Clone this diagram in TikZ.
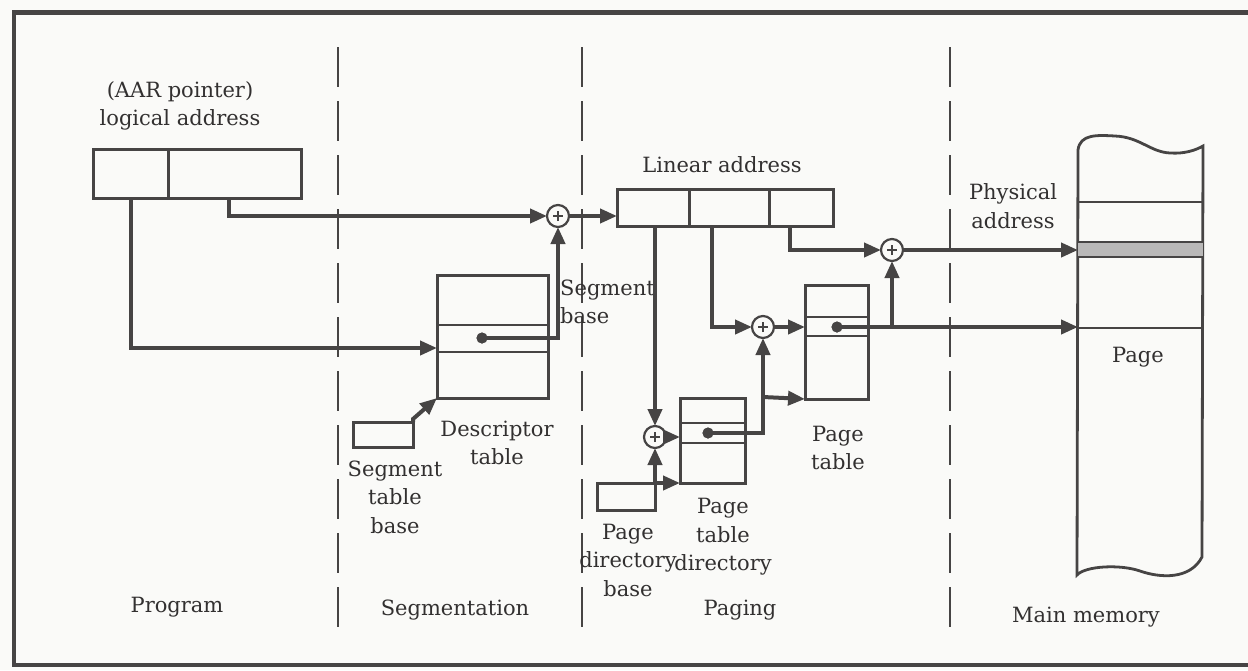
\documentclass[tikz,border=0pt]{standalone}
\usepackage{fontspec}
\setmainfont{DejaVu Serif}
\usetikzlibrary{arrows.meta}
\definecolor{ink}{RGB}{70,68,68}
\definecolor{textink}{RGB}{50,48,48}
\definecolor{paper}{RGB}{250,250,248}
\begin{document}
\begin{tikzpicture}[x=1pt,y=-1pt,
  box/.style={draw=ink,line width=3pt,inner sep=0pt,outer sep=0pt},
  conn/.style={draw=ink,line width=4pt,-{Triangle[length=17pt,width=14pt]}},
  wire/.style={draw=ink,line width=4pt},
  adder/.style={circle,draw=ink,line width=2.2pt,minimum size=22pt,inner sep=0pt,outer sep=0pt,fill=paper,
    path picture={\draw[ink,line width=1.9pt]
      ([xshift=-5pt]path picture bounding box.center) -- ([xshift=5pt]path picture bounding box.center)
      ([yshift=-5pt]path picture bounding box.center) -- ([yshift=5pt]path picture bounding box.center);}},
  lbl/.style={text=textink,font=\fontsize{21}{28.5}\selectfont,align=center,inner sep=0pt},
  sep/.style={draw=ink,line width=2.2pt,dash pattern=on 40pt off 14pt},
  dotn/.style={circle,fill=ink,inner sep=0pt,minimum size=11pt},
  thin/.style={draw=ink,line width=2pt}
]
\useasboundingbox (0,0) rectangle (1248,670);
\fill[paper] (0,0) rectangle (1248,670);
% frame
\draw[ink,line width=4.5pt] (1262,12.5) -- (14,12.5) -- (14,665) -- (1262,665);

% separators
\draw[sep] (338,47) -- (338,640);
\draw[sep] (582,47) -- (582,640);
\draw[sep] (950,47) -- (950,640);

% program
\node[lbl] (aar) at (180,106) {(AAR pointer)\\logical address};
\node[box,minimum width=75pt,minimum height=49pt] (la1) at (130.5,173.5) {};
\node[box,minimum width=133pt,minimum height=49pt] (la2) at (234.5,173.5) {};

% segmentation
\node[box,minimum width=111pt,minimum height=123pt] (dt) at (492.5,336.5) {};
\draw[thin] (437,325) -- (548,325) (437,352) -- (548,352);
\node[box,minimum width=60pt,minimum height=25pt] (stb) at (383,434.5) {};
\node[adder] (p1) at (558,216) {};
\node[dotn] (d1) at (482,338) {};
\node[lbl] (dtl) at (497,443) {Descriptor\\table};
\node[lbl] (stbl) at (395,497) {Segment\\table\\base};
\node[lbl,align=left,anchor=west] (sbl) at (560,302) {Segment\\base};

% linear address
\node[lbl] (linl) at (722,165) {Linear address};
\node[box,minimum width=72pt,minimum height=37pt] (lin1) at (653,207.5) {};
\node[box,minimum width=80pt,minimum height=37pt] (lin2) at (729,207.5) {};
\node[box,minimum width=64pt,minimum height=37pt] (lin3) at (801,207.5) {};

% paging
\node[adder] (p2) at (655,437) {};
\node[box,minimum width=65pt,minimum height=85pt] (ptd) at (712.5,440.5) {};
\draw[thin] (680,423) -- (745,423) (680,443) -- (745,443);
\node[box,minimum width=58pt,minimum height=27pt] (pdb) at (626,496.5) {};
\node[adder] (p3) at (763,327) {};
\node[box,minimum width=63pt,minimum height=114pt] (pt) at (836.5,342) {};
\draw[thin] (805,317) -- (868,317) (805,336) -- (868,336);
\node[adder] (p4) at (892,250) {};
\node[dotn] (d2) at (708,433) {};
\node[dotn] (d3) at (837,327) {};
\node[lbl] (ptl) at (838,448) {Page\\table};
\node[lbl] (ptdl) at (723,537) {Page\\table\\directory};
\node[lbl] (pdbl) at (628,560) {Page\\directory\\base};

% main memory
\draw[ink,line width=2.8pt]
  (1078,150) .. controls (1080,134) and (1097,135) .. (1115,136)
  .. controls (1140,137) and (1150,152) .. (1170,153)
  .. controls (1185,154) and (1196,150) .. (1203,146)
  -- (1202,557)
  .. controls (1190,580) and (1160,578) .. (1140,571)
  .. controls (1120,564) and (1085,566) .. (1077,575) -- cycle;
\fill[ink!38] (1078,242) rectangle (1203,257);
\draw[thin] (1078,202) -- (1203,202) (1078,242) -- (1203,242) (1078,257) -- (1203,257) (1078,328) -- (1203,328);
\coordinate (m1) at (1078,250);
\coordinate (m2) at (1078,327);
\node[lbl] (phl) at (1013,206) {Physical\\address};
\node[lbl] (pgl) at (1138,357) {Page};

% section titles
\node[lbl] (t1) at (177,607) {Program};
\node[lbl] (t2) at (455,610) {Segmentation};
\node[lbl] (t3) at (740,610) {Paging};
\node[lbl] (t4) at (1086,617) {Main memory};

% connectors
\draw[conn] (la1.south) |- (dt.west |- 0,348);
\draw[conn] (la2.south -| 229,0) |- (p1.west);
\draw[conn] (d1.center) -| (p1.south);
\draw[conn] (stb.north east) -- ++(0,-3) -- (dt.south west);
\draw[conn] (p1.east) -- (lin1.west |- p1);
\draw[conn] (lin1.south -| p2) -- (p2.north);
\draw[conn] (lin2.south -| 712,0) |- (p3.west);
\draw[conn] (lin3.south -| 790,0) |- (p4.west);
\draw[conn] (p4.east) -- (m1);
\draw[conn] (p2.east) -- (ptd.west |- p2);
\draw[conn] (pdb.north east) -- (p2.south);
\draw[conn] (pdb.north east) -- (ptd.south west);
\draw[conn] (d2.center) -| (p3.south);
\draw[conn] (p3 |- 0,397) -- (pt.south west);
\draw[conn] (p3.east) -- (pt.west |- p3);
\draw[conn] (d3.center) -- (m2);
\draw[conn] (p4 |- d3) -- (p4.south);
\node[dotn] at (d1) {};
\node[dotn] at (d2) {};
\node[dotn] at (d3) {};
\end{tikzpicture}
\end{document}
